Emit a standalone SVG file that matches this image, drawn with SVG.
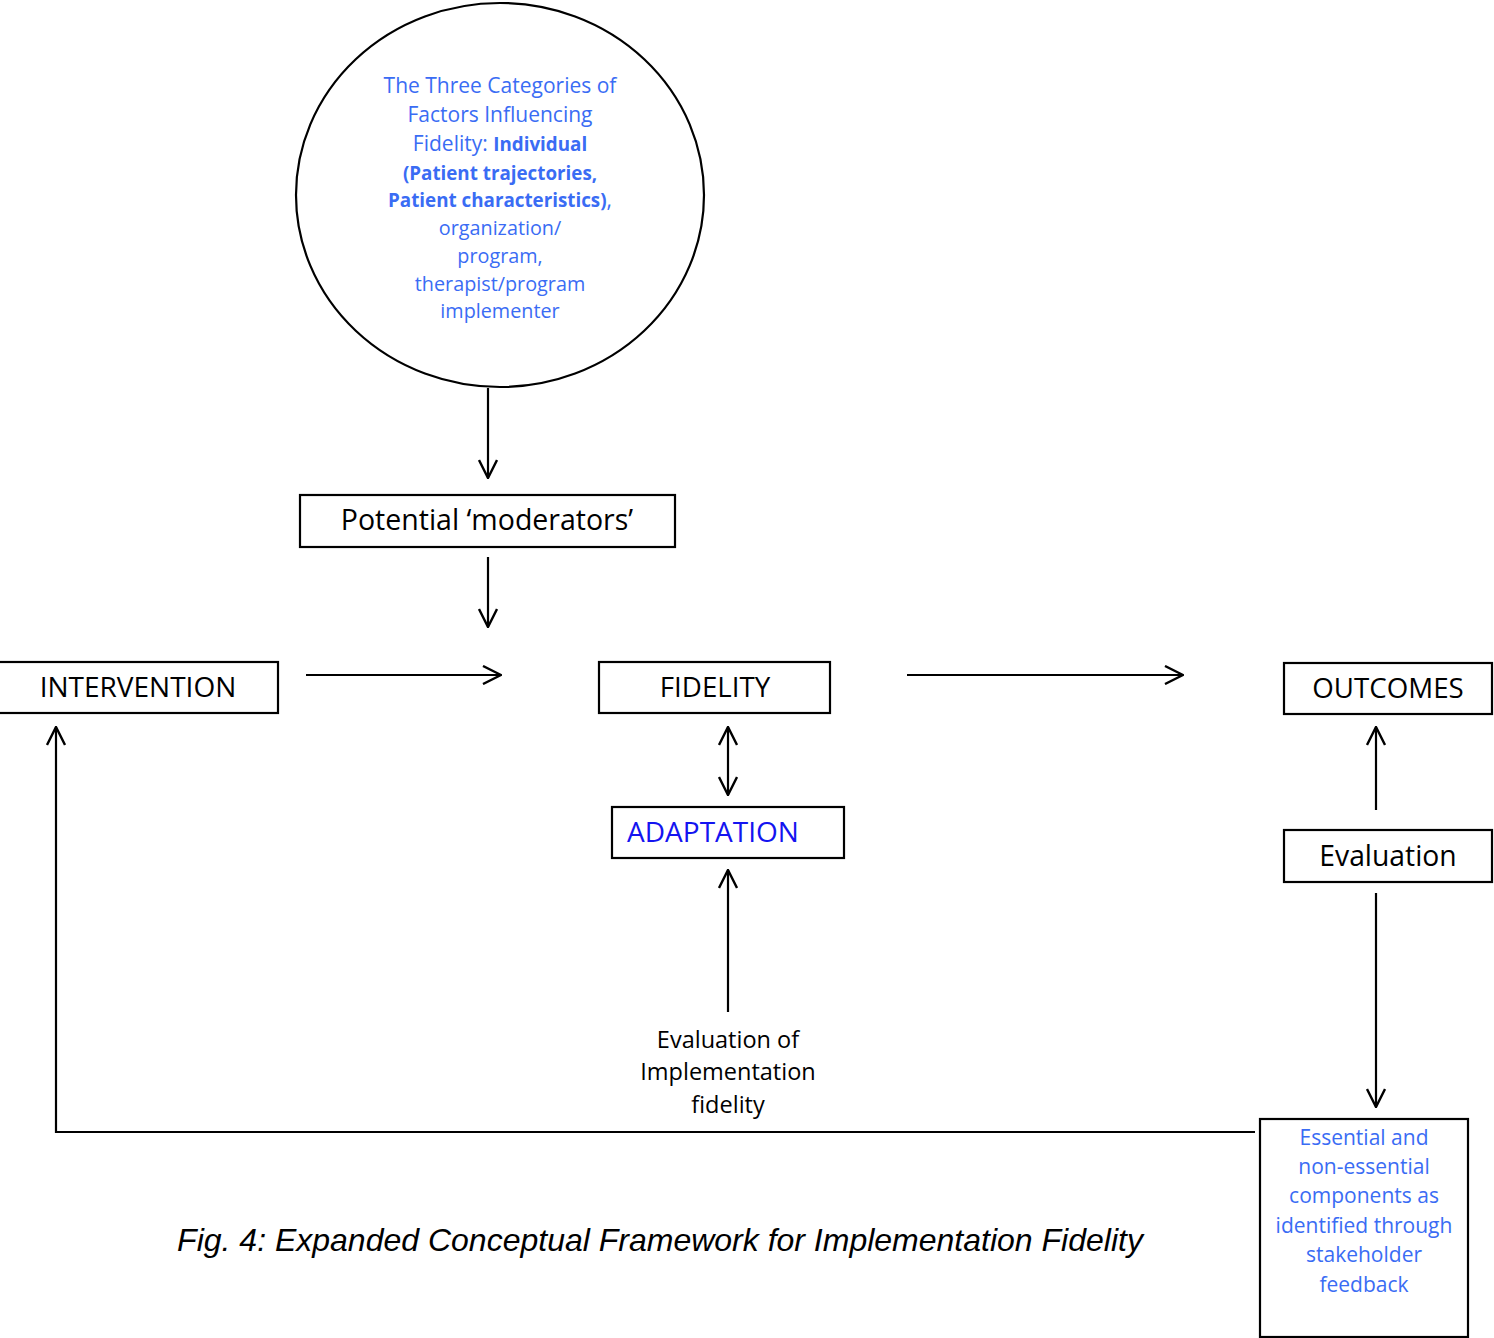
<svg xmlns="http://www.w3.org/2000/svg" width="1494" height="1338" viewBox="0 0 1494 1338">
<defs>
<marker id="open" viewBox="0 0 20 20" refX="19" refY="10" markerWidth="20" markerHeight="20" markerUnits="userSpaceOnUse" orient="auto-start-reverse">
<path d="M1,1 L19,10 L1,19" fill="none" stroke="#000" stroke-width="2.4"/>
</marker>
<style>
.box{fill:#fff;stroke:#000;stroke-width:2.2}
.lbl{font-family:"Open Sans","Liberation Sans",sans-serif;fill:#000;text-anchor:middle}
.blue{font-family:"Open Sans","Liberation Sans",sans-serif;fill:#3a6cf4;text-anchor:middle;font-size:21px}
.sm{font-size:19.8px}
.b{font-weight:bold;font-size:18.8px}
.ln{fill:none;stroke:#000;stroke-width:2.2}
</style>
</defs>
<rect width="1494" height="1338" fill="#fff"/>
<g id="connectors">
<line class="ln" x1="488" y1="388" x2="488" y2="478" marker-end="url(#open)"/>
<line class="ln" x1="488" y1="557" x2="488" y2="627" marker-end="url(#open)"/>
<line class="ln" x1="306" y1="675" x2="501" y2="675" marker-end="url(#open)"/>
<line class="ln" x1="907" y1="675" x2="1183" y2="675" marker-end="url(#open)"/>
<line class="ln" x1="728" y1="727" x2="728" y2="795" marker-start="url(#open)" marker-end="url(#open)"/>
<line class="ln" x1="728" y1="1012" x2="728" y2="870" marker-end="url(#open)"/>
<line class="ln" x1="1376" y1="810" x2="1376" y2="727" marker-end="url(#open)"/>
<line class="ln" x1="1376" y1="893" x2="1376" y2="1107" marker-end="url(#open)"/>
<polyline class="ln" points="1255,1132 56,1132 56,727" marker-end="url(#open)"/>
</g>
<g id="factors">
<ellipse cx="500" cy="195" rx="204" ry="192" fill="#fff" stroke="#000" stroke-width="2.2"/>
<text class="blue" x="500" y="93">The Three Categories of</text>
<text class="blue" x="500" y="122">Factors Influencing</text>
<text class="blue" x="500" y="151">Fidelity: <tspan class="b">Individual</tspan></text>
<text class="blue b" x="500" y="180">(Patient trajectories,</text>
<text class="blue" x="500" y="207"><tspan class="b">Patient characteristics)</tspan>,</text>
<text class="blue sm" x="500" y="235">organization/</text>
<text class="blue sm" x="500" y="263">program,</text>
<text class="blue sm" x="500" y="291">therapist/program</text>
<text class="blue sm" x="500" y="318">implementer</text>
</g>
<g id="moderators">
<rect class="box" x="300" y="495" width="375" height="52"/>
<text class="lbl" x="487" y="530" font-size="28.5">Potential ‘moderators’</text>
</g>
<g id="intervention">
<rect class="box" x="-2" y="662" width="280" height="51"/>
<text class="lbl" x="138" y="697" font-size="28">INTERVENTION</text>
</g>
<g id="fidelity">
<rect class="box" x="599" y="662" width="231" height="51"/>
<text class="lbl" x="715" y="697" font-size="27.7">FIDELITY</text>
</g>
<g id="outcomes">
<rect class="box" x="1284" y="663" width="208" height="51"/>
<text class="lbl" x="1388" y="698" font-size="27.7">OUTCOMES</text>
</g>
<g id="adaptation">
<rect class="box" x="612" y="807" width="232" height="51"/>
<text class="lbl" x="713" y="842" font-size="28" style="fill:#1414f0">ADAPTATION</text>
</g>
<g id="evaluation">
<rect class="box" x="1284" y="830" width="208" height="52"/>
<text class="lbl" x="1388" y="866" font-size="28.3">Evaluation</text>
</g>
<g id="eval-impl">
<text class="lbl" x="728" y="1048" font-size="23.5">Evaluation of</text>
<text class="lbl" x="728" y="1080" font-size="23.5">Implementation</text>
<text class="lbl" x="728" y="1113" font-size="23.5">fidelity</text>
</g>
<g id="components">
<rect class="box" x="1260" y="1119" width="208" height="218"/>
<text class="blue" x="1364" y="1145">Essential and</text>
<text class="blue" x="1364" y="1174">non-essential</text>
<text class="blue" x="1364" y="1203">components as</text>
<text class="blue" x="1364" y="1233">identified through</text>
<text class="blue" x="1364" y="1262">stakeholder</text>
<text class="blue" x="1364" y="1292">feedback</text>
</g>
<g id="caption">
<text x="660" y="1251" text-anchor="middle" font-family="'Liberation Sans',Arial,sans-serif" font-style="italic" font-size="32" fill="#000">Fig. 4: Expanded Conceptual Framework for Implementation Fidelity</text>
</g>
</svg>
